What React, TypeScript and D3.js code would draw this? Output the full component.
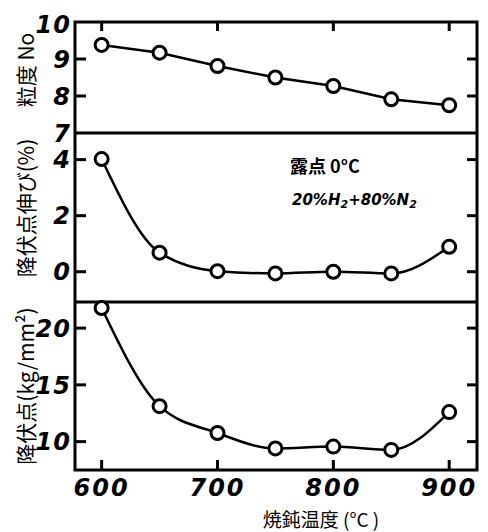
import React from "react";
import * as d3 from "d3";

const temps = [600, 650, 700, 750, 800, 850, 900];
const grainSize = [9.38, 9.17, 8.81, 8.5, 8.27, 7.91, 7.75];
const elongation = [4.02, 0.68, 0.02, -0.06, 0, -0.06, 0.89];
const yieldPoint = [21.77, 13.12, 10.76, 9.4, 9.56, 9.27, 12.6];

const xTicks = [600, 700, 800, 900];
const grainTicks = [10, 9, 8, 7];
const elongTicks = [4, 2, 0];
const yieldTicks = [20, 15, 10];

const W = 488, H = 532;
const L = 75, R = 477;
const T1 = 22, B1 = 133, B2 = 302, B3 = 470;

const x = d3.scaleLinear().domain([577, 924]).range([L, R]);
const y1 = d3.scaleLinear().domain([7, 10]).range([B1, T1]);
const y2 = d3.scaleLinear().domain([-1.08, 4.95]).range([B2, B1]);
const y3 = d3.scaleLinear().domain([7.5, 22.3]).range([B3, B2]);

const numFont = { fontFamily: "DejaVu Sans", fontWeight: 700, fontStyle: "italic" as const };

export default function App() {
  const line1 = d3.line<number>().x((_, i) => x(temps[i])).y((d) => y1(d));
  const line2 = d3.line<number>().x((_, i) => x(temps[i])).y((d) => y2(d)).curve(d3.curveMonotoneX);
  const line3 = d3.line<number>().x((_, i) => x(temps[i])).y((d) => y3(d)).curve(d3.curveMonotoneX);

  const circles = (vals: number[], ys: d3.ScaleLinear<number, number>, key: string) =>
    vals.map((v, i) => (
      <circle key={key + i} cx={x(temps[i])} cy={ys(v)} r={6.5} fill="#fff" stroke="#000" strokeWidth={3} />
    ));

  const leftTicks = (ticks: number[], ys: d3.ScaleLinear<number, number>, key: string) =>
    ticks.map((t) => (
      <g key={key + t}>
        <line x1={L} x2={L + 11} y1={ys(t)} y2={ys(t)} stroke="#000" strokeWidth={3} />
        <line x1={R - 10} x2={R} y1={ys(t)} y2={ys(t)} stroke="#000" strokeWidth={3} />
        <text x={71} y={ys(t)} dy="0.36em" textAnchor="end" fontSize={24} letterSpacing={1} {...numFont}>
          {t}
        </text>
      </g>
    ));

  return (
    <svg width={W} height={H} style={{ position: "absolute", left: 0, top: 0, background: "#fff" }}>
      <rect x={0} y={0} width={W} height={H} fill="#fff" />
      <rect x={L} y={T1} width={R - L} height={B3 - T1} fill="none" stroke="#000" strokeWidth={3} />
      <line x1={L} x2={R} y1={B1} y2={B1} stroke="#000" strokeWidth={3} />
      <line x1={L} x2={R} y1={B2} y2={B2} stroke="#000" strokeWidth={3} />

      {xTicks.map((t) => (
        <g key={"x" + t}>
          <line x1={x(t)} x2={x(t)} y1={T1} y2={T1 + 9} stroke="#000" strokeWidth={3} />
          <line x1={x(t)} x2={x(t)} y1={B3} y2={B3 - 10} stroke="#000" strokeWidth={3} />
          <text x={x(t)} y={496} textAnchor="middle" fontSize={24} letterSpacing={2} {...numFont}>
            {t}
          </text>
        </g>
      ))}

      {grainTicks.map((t) => (
        <g key={"g" + t}>
          {t !== 10 && t !== 7 && (
            <>
              <line x1={L} x2={L + 11} y1={y1(t)} y2={y1(t)} stroke="#000" strokeWidth={3} />
              <line x1={R - 10} x2={R} y1={y1(t)} y2={y1(t)} stroke="#000" strokeWidth={3} />
            </>
          )}
          <text x={71} y={y1(t) + (t === 10 ? 2 : 0)} dy="0.36em" textAnchor="end" fontSize={24} letterSpacing={1} {...numFont}>
            {t}
          </text>
        </g>
      ))}
      {leftTicks(elongTicks, y2, "e")}
      {leftTicks(yieldTicks, y3, "y")}

      <path d={line1(grainSize) || ""} fill="none" stroke="#000" strokeWidth={2.5} />
      <path d={line2(elongation) || ""} fill="none" stroke="#000" strokeWidth={2.5} />
      <path d={line3(yieldPoint) || ""} fill="none" stroke="#000" strokeWidth={2.5} />
      {circles(grainSize, y1, "c1")}
      {circles(elongation, y2, "c2")}
      {circles(yieldPoint, y3, "c3")}

      <text x={290} y={173} fontSize={18} fontFamily="Noto Sans CJK JP" fontWeight={700}>
        露点 0°C
      </text>
      <text x={292} y={205} fontSize={15} fontFamily="DejaVu Sans" fontStyle="italic" fontWeight={700}>
        20%H<tspan fontSize={11} dy={3}>2</tspan>
        <tspan dy={-3}>+80%N</tspan>
        <tspan fontSize={11} dy={3}>2</tspan>
      </text>

      <text x={321} y={527} textAnchor="middle" fontSize={19} fontFamily="Noto Sans CJK JP">
        焼鈍温度 (°C )
      </text>

      <g fontSize={21} fontFamily="Noto Sans CJK JP">
        <text transform={`translate(34,386) rotate(-90)`} textAnchor="middle">降伏点(kg/mm²)</text>
        <text transform={`translate(34,208) rotate(-90)`} textAnchor="middle">降伏点伸び(%)</text>
        <text transform={`translate(34,70) rotate(-90)`} textAnchor="middle">粒度 No</text>
      </g>
    </svg>
  );
}
